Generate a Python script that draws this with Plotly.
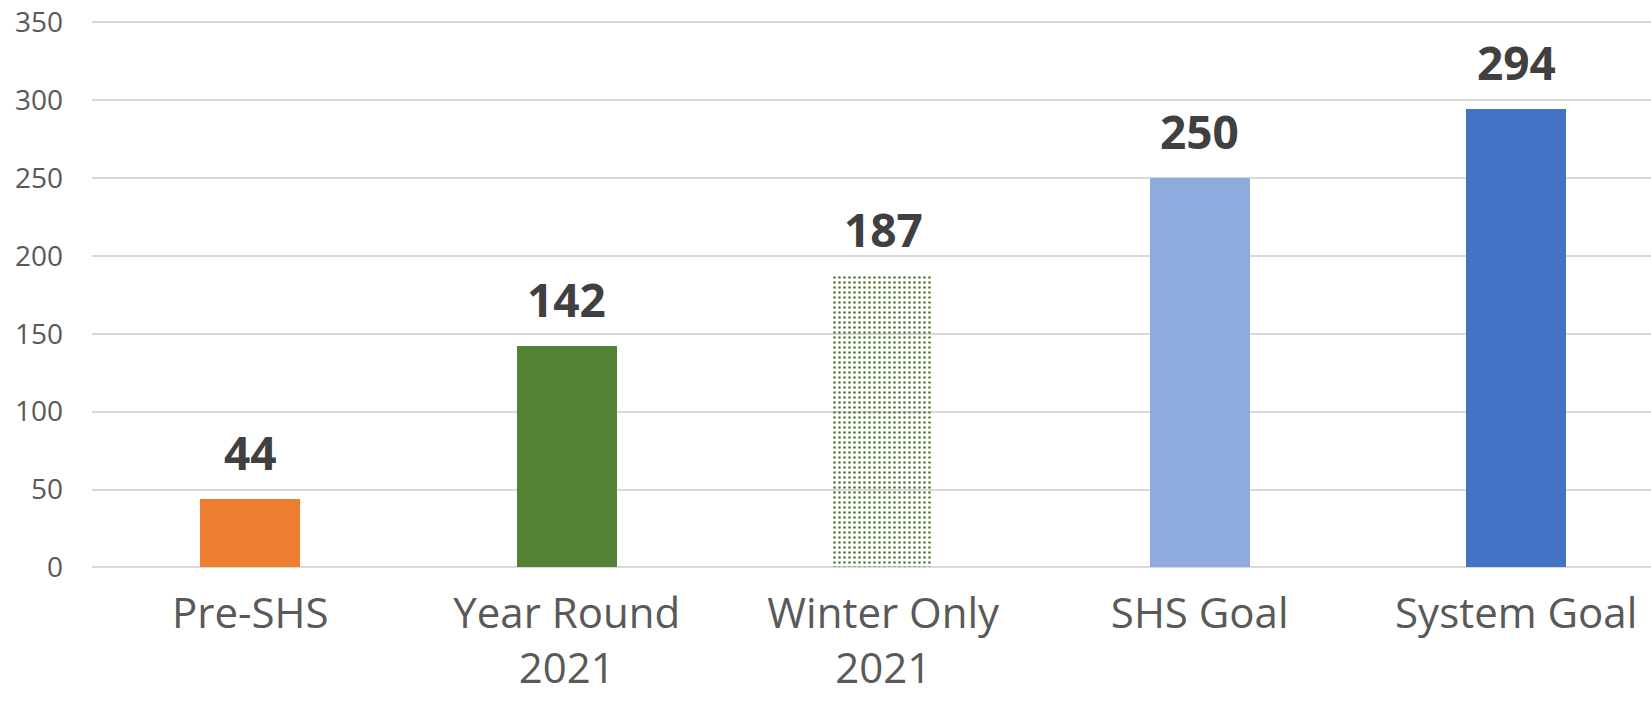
import plotly.graph_objects as go

categories = ["Pre-SHS", "Year Round<br>2021", "Winter Only<br>2021", "SHS Goal", "System Goal"]
values = [44, 142, 187, 250, 294]
colors = ["#ED7D31", "#548235", "#548235", "#8FAADC", "#4472C4"]
y_ticks = [0, 50, 100, 150, 200, 250, 300, 350]

FONT = "Open Sans"

fig = go.Figure()
fig.add_trace(go.Bar(
    x=list(range(len(categories))),
    y=values,
    width=0.316,
    marker=dict(
        color=colors,
        line=dict(width=0),
        pattern=dict(
            shape=["", "", ".", "", ""],
            fgcolor="#FFFFFF",
            bgcolor="#548235",
            size=5,
            solidity=0.22,
            fillmode="replace",
        ),
    ),
    hoverinfo="skip",
))

for i, v in enumerate(values):
    fig.add_annotation(
        x=i, y=v, text=str(v), showarrow=False,
        yanchor="bottom", yshift=14,
        font=dict(family=FONT, size=46, color="#404040", weight="bold"),
    )

fig.update_layout(
    width=1651, height=707,
    margin=dict(l=92, r=0, t=20, b=138),
    paper_bgcolor="white", plot_bgcolor="white",
    showlegend=False,
    bargap=0,
)
fig.update_xaxes(
    range=[-0.5, 4.426],
    tickmode="array",
    tickvals=list(range(len(categories))),
    ticktext=categories,
    tickfont=dict(family=FONT, size=42, color="#595959"),
    showgrid=False, zeroline=False, showline=False,
    ticks="", ticklabelstandoff=16, automargin=False,
    ticklabeloverflow="allow",
)
fig.update_yaxes(
    range=[-1, 351.3],
    tickmode="array",
    tickvals=y_ticks,
    tickfont=dict(family=FONT, size=28, color="#595959"),
    showgrid=True, gridcolor="#D9D9D9", gridwidth=2,
    zeroline=False, showline=False,
    ticks="", ticklabelstandoff=28, automargin=False,
    ticklabeloverflow="allow",
)

fig.write_html(
    "out.html",
    config={"displayModeBar": False, "staticPlot": True},
    post_script="document.body.style.margin='0';document.body.style.overflow='hidden';",
)
